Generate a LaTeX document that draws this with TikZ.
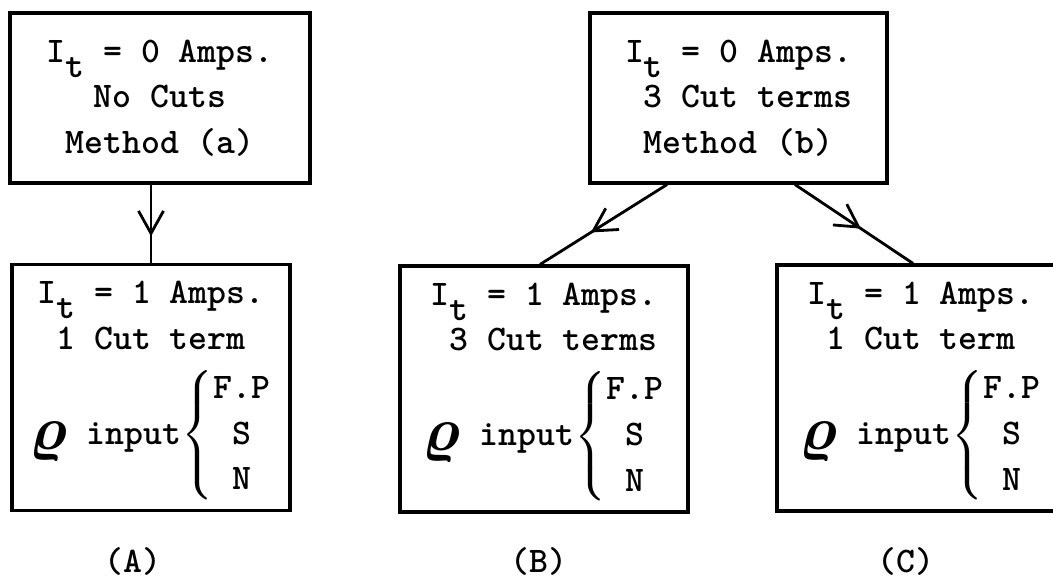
\documentclass[tikz,border=0pt]{standalone}
\usepackage{amsmath}
\usepackage{amssymb}
\usepackage{graphicx}
\usepackage{tikz}
\usetikzlibrary{arrows.meta,decorations.markings}

\newcommand{\Isub}{I\raisebox{-0.42em}[0pt][0pt]{t}}
\newcommand{\rhoinput}{\raisebox{-0.15em}{\scalebox{1.7}{$\boldsymbol{\varrho}$}}\ input$\left\{\begin{tabular}{@{}c@{}}F.P\\ S\\ N\end{tabular}\right.$}

\begin{document}
\begin{tikzpicture}[x=0.02cm, y=0.02cm, line width=1.8pt,
    font=\fontsize{20.5}{26}\selectfont\ttfamily\bfseries,
    topbox/.style = {draw, align=center, inner sep=0pt, minimum height=3.4cm},
    lowbox/.style = {draw, inner sep=0pt, minimum height=4.92cm},
    midarrow/.style = {line width=1.6pt, postaction={decorate},
        decoration={markings, mark=at position #1 with {\arrow{Straight Barb[length=0.45cm,width=0.5cm]}}}}]
    \useasboundingbox (0,0) rectangle (1053,579);
    \clip (0,0) rectangle (1053,579);
    % upper boxes
    \node[topbox, minimum width=6cm]    (a) at (160,481)   {\Isub{} = 0 Amps.\\ No Cuts\\ Method (a)};
    \node[topbox, minimum width=5.94cm] (b) at (738.5,481) {\Isub{} = 0 Amps.\\ \ 3 Cut terms\\ Method (b)};
    % lower boxes
    \node[lowbox, minimum width=5.56cm] (A) at (151,191.5) {\begin{tabular}{@{}c@{}}\Isub{} = 1 Amps.\\ 1 Cut term\\[2pt] \rhoinput\end{tabular}};
    \node[lowbox, minimum width=5.76cm] (B) at (544,190)   {\begin{tabular}{@{}c@{}}\Isub{} = 1 Amps.\\ \ 3 Cut terms\\[2pt] \rhoinput\end{tabular}};
    \node[lowbox, minimum width=5.76cm] (C) at (921,191)   {\begin{tabular}{@{}c@{}}\Isub{} = 1 Amps.\\ 1 Cut term\\[2pt] \rhoinput\end{tabular}};
    % captions
    \node (labA) at (133,18) {(A)};
    \node (labB) at (539,18) {(B)};
    \node (labC) at (906,18) {(C)};
    % connectors
    \draw[midarrow=0.66] (A.north |- a.south) -- (A.north);
    \draw[midarrow=0.6]  ([xshift=-1.43cm]b.south) -- ([xshift=-0.08cm]B.north);
    \draw[midarrow=0.56] ([xshift=1.13cm]b.south) -- ([xshift=-0.16cm]C.north);
\end{tikzpicture}
\end{document}
